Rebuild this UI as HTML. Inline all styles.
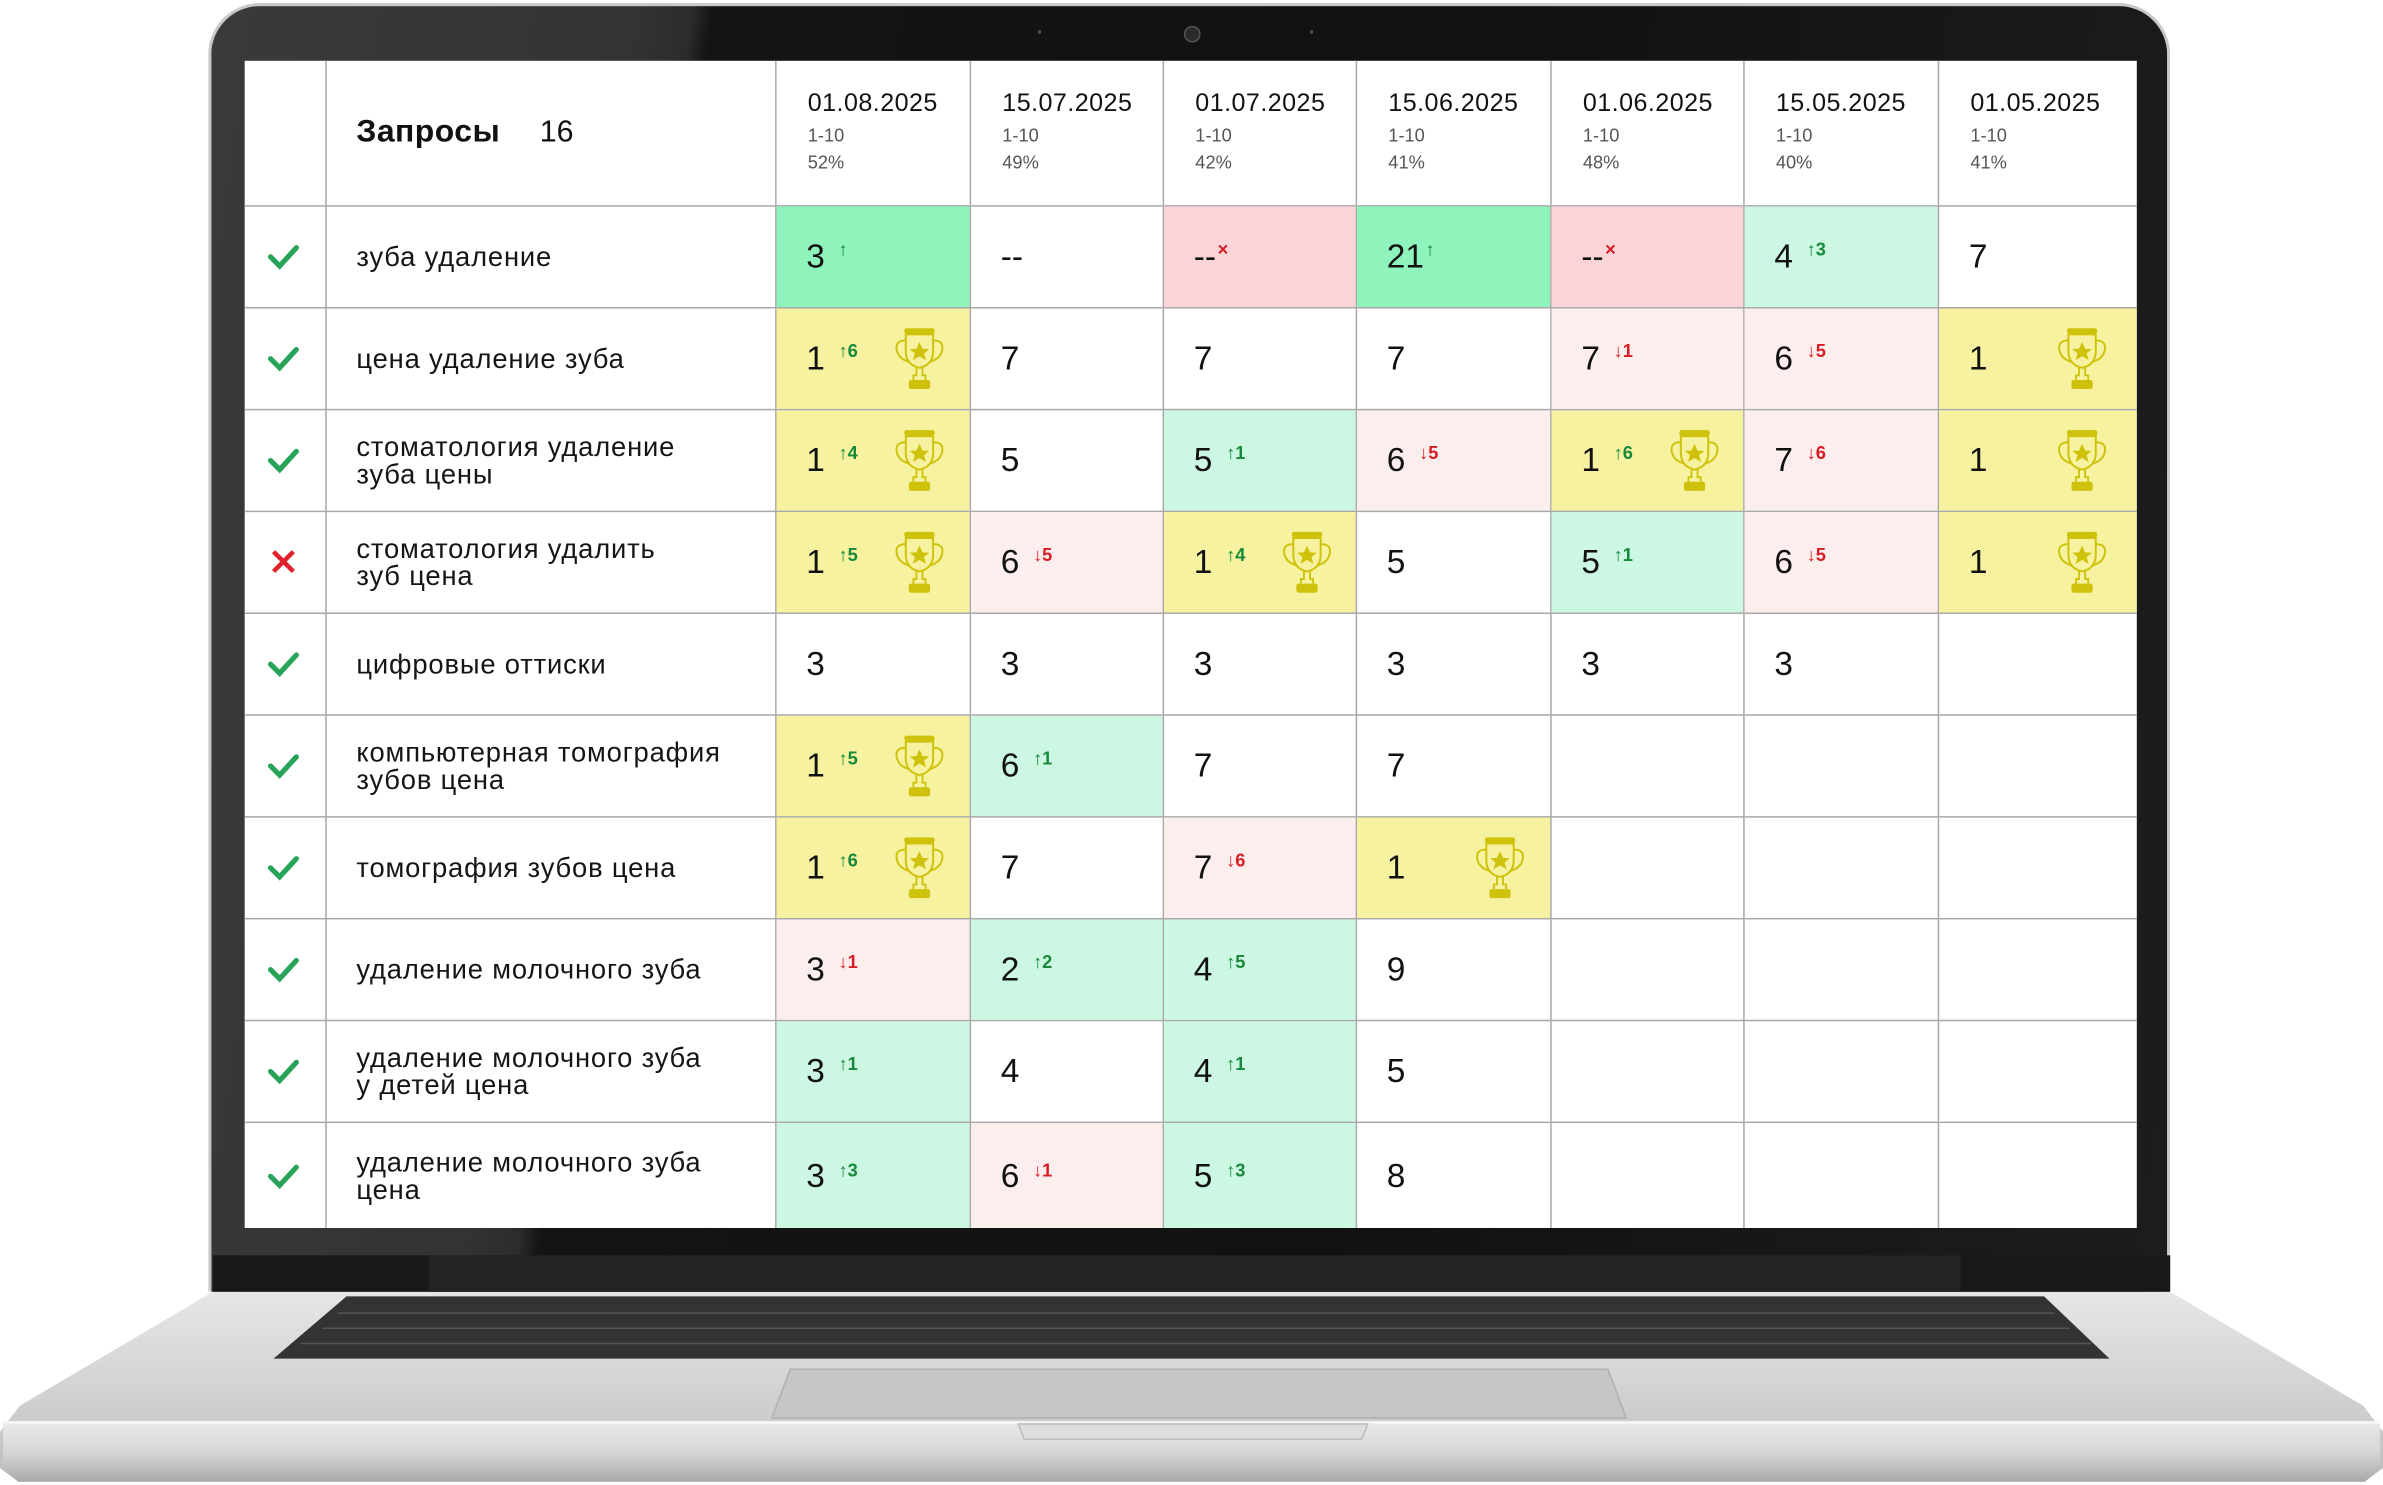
<!DOCTYPE html>
<html><head><meta charset="utf-8">
<style>
html,body{margin:0;padding:0;background:#fff;overflow:hidden}
#root{position:absolute;left:0;top:0;width:1568px;height:977px;transform:scale(1.51977);transform-origin:0 0;font-family:"Liberation Sans","DejaVu Sans",sans-serif;}
.lid{position:absolute;left:137px;top:2px;width:1287px;height:846px;border-radius:34px 34px 0 0;border:2px solid #c9c9c9;border-bottom:none;background:linear-gradient(98deg,#3a3a3a 0%,#333 20%,#2c2c2c 22.5%,#141414 23.5%,#111 60%,#1d1d1d 100%);}
.screen{position:absolute;left:161px;top:40px;width:1245px;height:768px;background:#fff;overflow:hidden}
table{border-collapse:collapse;table-layout:fixed;position:absolute;left:0;top:0}
td{border:1px solid #a9a9a9;padding:0;position:relative;vertical-align:middle;color:#111}
tr.h td{border-top:none}
td:first-child{border-left:none}
td:last-child{border-right:none}
.q{font-size:18px;line-height:18px;letter-spacing:.55px;padding-left:20px;color:#151515}
.d{padding-left:21px;vertical-align:top;padding-top:19px}
.d b{display:block;font-weight:normal;font-size:16.5px;letter-spacing:.3px;color:#111}
.d i{display:block;font-style:normal;font-size:12px;color:#555;line-height:19px;margin-top:2px}
.d i+i{margin-top:-1px}
.n{padding-left:20px;font-size:22px;white-space:nowrap}
.n sup{font-size:12px;font-weight:bold;margin-left:9px;position:relative;top:1px}
.u{color:#168a3a}.w{color:#d81c24}
.sg{background:#8ff4bb}.lg{background:#ccf7e2}.pk{background:#fad4d6}.lp{background:#fdeeee}.y{background:#f6f29f}
.t{position:absolute;left:75px;top:50%;margin-top:-21px;width:40px;height:44px}
.ck{display:block;margin:0 auto}
</style></head><body><div id="root">
<svg width="1568" height="977" style="position:absolute;left:0;top:0">
<defs>
<linearGradient id="bs" x1="0" y1="0" x2="0" y2="1"><stop offset="0" stop-color="#e6e6e6"/><stop offset=".6" stop-color="#cfcfcf"/><stop offset="1" stop-color="#bdbdbd"/></linearGradient>
<linearGradient id="lp2" x1="0" y1="0" x2="0" y2="1"><stop offset="0" stop-color="#e9e9e9"/><stop offset=".5" stop-color="#d6d6d6"/><stop offset="1" stop-color="#a9a9a9"/></linearGradient>
</defs>
<polygon points="140,850 1428,850 1555,925 1568,942 1568,966 1556,975 12,975 0,966 0,942 13,925" fill="url(#bs)"/>
<path d="M2,936 L1566,936 L1566,966 L1556,975 L12,975 L2,966 Z" fill="url(#lp2)"/>
<line x1="2" y1="936" x2="1566" y2="936" stroke="#f4f4f4" stroke-width="2"/>
<polygon points="228,853 1345,853 1388,894 180,894" fill="#333"/>
<g stroke="#555" stroke-width="1">
<line x1="222" y1="864" x2="1352" y2="864"/><line x1="212" y1="874" x2="1362" y2="874"/><line x1="198" y1="884" x2="1376" y2="884"/>
</g>
<polygon points="520,901 1058,901 1070,933 508,933" fill="#c6c6c6" stroke="#b0b0b0"/>
<polygon points="670,937 900,937 896,947 674,947" fill="#dedede" stroke="#bbb"/>
</svg>
<div class="lid"></div>
<div style="position:absolute;left:140px;top:826px;width:1288px;height:24px;background:#181818"></div>
<div style="position:absolute;left:282px;top:826px;width:1008px;height:24px;background:#232323"></div>
<div style="position:absolute;left:779px;top:17px;width:9px;height:9px;border-radius:50%;background:#2a2a2a;border:1px solid #555"></div>
<div style="position:absolute;left:683px;top:20px;width:2px;height:2px;background:#555"></div>
<div style="position:absolute;left:862px;top:20px;width:2px;height:2px;background:#555"></div>
<svg width="0" height="0" style="position:absolute"><defs>
<g id="tr"><rect x="9" y="1" width="20" height="3.5" rx="1.5" fill="#cfc20c"/>
<path d="M10,5 L10,16 Q10,25 19,27 Q28,25 28,16 L28,5 Z" fill="none" stroke="#cfc20c" stroke-width="1.3"/>
<path d="M10,9 Q3,9 4,15 Q5,21 12,23 M28,9 Q35,9 34,15 Q33,21 26,23" fill="none" stroke="#cfc20c" stroke-width="1.3"/>
<polygon points="19,10 21,14.5 25.5,14.7 22,17.5 23.3,22 19,19.4 14.7,22 16,17.5 12.5,14.7 17,14.5" fill="#cfc20c"/>
<path d="M17,27 L17,32 L15,32 L15,35 M21,27 L21,32 L23,32 L23,35" fill="none" stroke="#cfc20c" stroke-width="1.2"/>
<rect x="12" y="35" width="14" height="6" rx="1.5" fill="#cfc20c"/></g>
<g id="ok"><path d="M2,9 L8,15 L19,3" fill="none" stroke="#28a35a" stroke-width="3.4" stroke-linecap="round"/></g>
<g id="no"><path d="M4,2 L17,15 M17,2 L4,15" fill="none" stroke="#e0222a" stroke-width="3"/></g>
</defs></svg>
<div class="screen">
<table>
<colgroup><col style="width:53px"><col style="width:296px"><col style="width:128px"><col style="width:127px"><col style="width:127px"><col style="width:128px"><col style="width:127px"><col style="width:128px"><col style="width:131px"></colgroup>
<tr class="h" style="height:95px"><td></td><td style="padding-left:20px"><span style="font-weight:bold;font-size:21px;letter-spacing:.3px">Запросы</span><span style="font-size:20px;margin-left:26px">16</span></td>
<td class="d"><b>01.08.2025</b><i>1-10</i><i>52%</i></td>
<td class="d"><b>15.07.2025</b><i>1-10</i><i>49%</i></td>
<td class="d"><b>01.07.2025</b><i>1-10</i><i>42%</i></td>
<td class="d"><b>15.06.2025</b><i>1-10</i><i>41%</i></td>
<td class="d"><b>01.06.2025</b><i>1-10</i><i>48%</i></td>
<td class="d"><b>15.05.2025</b><i>1-10</i><i>40%</i></td>
<td class="d"><b>01.05.2025</b><i>1-10</i><i>41%</i></td></tr>
<tr style="height:67px"><td><svg class="ck" width="22" height="18"><use href="#ok"/></svg></td><td class="q">зуба удаление</td>
<td class="n sg">3<sup class="u">↑</sup></td><td class="n">--</td><td class="n pk">--<sup class="w" style="margin-left:1px">×</sup></td><td class="n sg">21<sup class="u" style="margin-left:1px">↑</sup></td><td class="n pk">--<sup class="w" style="margin-left:1px">×</sup></td><td class="n lg">4<sup class="u">↑3</sup></td><td class="n">7</td></tr>
<tr style="height:67px"><td><svg class="ck" width="22" height="18"><use href="#ok"/></svg></td><td class="q">цена удаление зуба</td>
<td class="n y">1<sup class="u">↑6</sup><svg class="t"><use href="#tr"/></svg></td><td class="n">7</td><td class="n">7</td><td class="n">7</td><td class="n lp">7<sup class="w">↓1</sup></td><td class="n lp">6<sup class="w">↓5</sup></td><td class="n y">1<svg class="t"><use href="#tr"/></svg></td></tr>
<tr style="height:67px"><td><svg class="ck" width="22" height="18"><use href="#ok"/></svg></td><td class="q">стоматология удаление<br>зуба цены</td>
<td class="n y">1<sup class="u">↑4</sup><svg class="t"><use href="#tr"/></svg></td><td class="n">5</td><td class="n lg">5<sup class="u">↑1</sup></td><td class="n lp">6<sup class="w">↓5</sup></td><td class="n y">1<sup class="u">↑6</sup><svg class="t"><use href="#tr"/></svg></td><td class="n lp">7<sup class="w">↓6</sup></td><td class="n y">1<svg class="t"><use href="#tr"/></svg></td></tr>
<tr style="height:67px"><td><svg class="ck" width="22" height="18"><use href="#no"/></svg></td><td class="q">стоматология удалить<br>зуб цена</td>
<td class="n y">1<sup class="u">↑5</sup><svg class="t"><use href="#tr"/></svg></td><td class="n lp">6<sup class="w">↓5</sup></td><td class="n y">1<sup class="u">↑4</sup><svg class="t"><use href="#tr"/></svg></td><td class="n">5</td><td class="n lg">5<sup class="u">↑1</sup></td><td class="n lp">6<sup class="w">↓5</sup></td><td class="n y">1<svg class="t"><use href="#tr"/></svg></td></tr>
<tr style="height:67px"><td><svg class="ck" width="22" height="18"><use href="#ok"/></svg></td><td class="q">цифровые оттиски</td>
<td class="n">3</td><td class="n">3</td><td class="n">3</td><td class="n">3</td><td class="n">3</td><td class="n">3</td><td class="n"></td></tr>
<tr style="height:67px"><td><svg class="ck" width="22" height="18"><use href="#ok"/></svg></td><td class="q">компьютерная томография<br>зубов цена</td>
<td class="n y">1<sup class="u">↑5</sup><svg class="t"><use href="#tr"/></svg></td><td class="n lg">6<sup class="u">↑1</sup></td><td class="n">7</td><td class="n">7</td><td></td><td></td><td></td></tr>
<tr style="height:67px"><td><svg class="ck" width="22" height="18"><use href="#ok"/></svg></td><td class="q">томография зубов цена</td>
<td class="n y">1<sup class="u">↑6</sup><svg class="t"><use href="#tr"/></svg></td><td class="n">7</td><td class="n lp">7<sup class="w">↓6</sup></td><td class="n y">1<svg class="t"><use href="#tr"/></svg></td><td></td><td></td><td></td></tr>
<tr style="height:67px"><td><svg class="ck" width="22" height="18"><use href="#ok"/></svg></td><td class="q">удаление молочного зуба</td>
<td class="n lp">3<sup class="w">↓1</sup></td><td class="n lg">2<sup class="u">↑2</sup></td><td class="n lg">4<sup class="u">↑5</sup></td><td class="n">9</td><td></td><td></td><td></td></tr>
<tr style="height:67px"><td><svg class="ck" width="22" height="18"><use href="#ok"/></svg></td><td class="q">удаление молочного зуба<br>у детей цена</td>
<td class="n lg">3<sup class="u">↑1</sup></td><td class="n">4</td><td class="n lg">4<sup class="u">↑1</sup></td><td class="n">5</td><td></td><td></td><td></td></tr>
<tr style="height:72px"><td><svg class="ck" width="22" height="18"><use href="#ok"/></svg></td><td class="q">удаление молочного зуба<br>цена</td>
<td class="n lg">3<sup class="u">↑3</sup></td><td class="n lp">6<sup class="w">↓1</sup></td><td class="n lg">5<sup class="u">↑3</sup></td><td class="n">8</td><td></td><td></td><td></td></tr>
</table>
</div>
</div></body></html>
